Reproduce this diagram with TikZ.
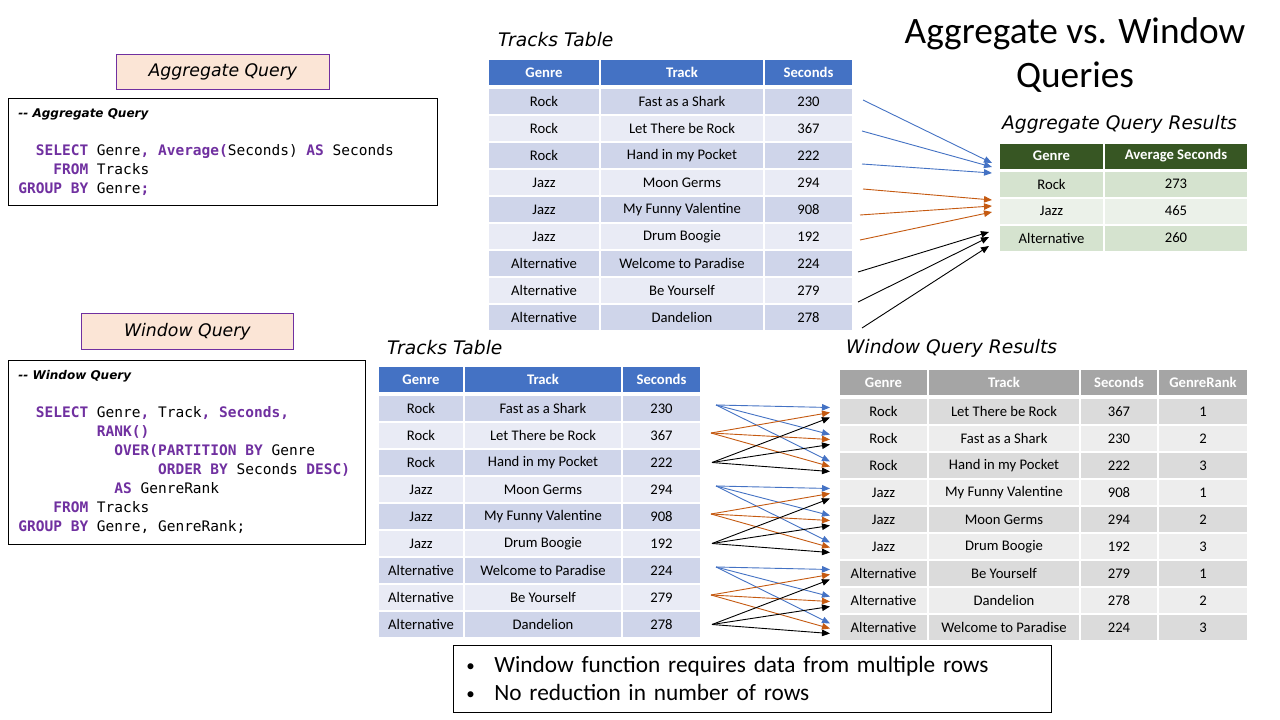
\documentclass[tikz,border=0pt]{standalone}
\usepackage{fontspec}
\setmainfont{Carlito}
\setmonofont{DejaVu Sans Mono}
\newfontfamily\headfont{DejaVu Sans}
\usetikzlibrary{arrows.meta}

\definecolor{hdblue}{HTML}{4472C4}
\definecolor{rowblueA}{HTML}{CFD5EA}
\definecolor{rowblueB}{HTML}{E9EBF5}
\definecolor{hdgreen}{HTML}{375623}
\definecolor{rowgreenA}{HTML}{D5E3CF}
\definecolor{rowgreenB}{HTML}{EBF1E9}
\definecolor{hdgray}{HTML}{A5A5A5}
\definecolor{rowgrayA}{HTML}{DBDBDB}
\definecolor{rowgrayB}{HTML}{EDEDED}
\definecolor{peach}{HTML}{FBE5D6}
\definecolor{sqlpurple}{HTML}{7030A0}
\definecolor{arrorange}{HTML}{C55A11}

\newcommand\kw[1]{\textcolor{sqlpurple}{\bfseries #1}}
\newcommand\codeind[1]{\hspace*{#1\fontcharwd\font`M}}
\newcommand\monospaces{\spaceskip=\fontcharwd\font`M\relax}
\newcommand\cmtfont{\headfont\bfseries\itshape\fontsize{12}{19}\selectfont\spaceskip=0pt\relax}
\newcommand\cellsize{\fontsize{14.67}{17}\selectfont}
\newcommand\notebullet{\makebox[28pt][l]{\raisebox{1.5pt}{\fontsize{17}{17}\selectfont\textbullet}}}

\def\trackrows{Rock/Fast as a Shark/230, Rock/Let There be Rock/367,
  Rock/Hand in my Pocket/222, Jazz/Moon Germs/294, Jazz/My Funny Valentine/908,
  Jazz/Drum Boogie/192, Alternative/Welcome to Paradise/224,
  Alternative/Be Yourself/279, Alternative/Dandelion/278}

\tikzset{
  cell/.style={minimum height=27pt, inner sep=0pt, draw=white, line width=2pt, font=\cellsize},
  hcell/.style={cell, text=white, font=\bfseries\cellsize},
  heading/.style={anchor=west, inner sep=0pt, font=\headfont\itshape\fontsize{18.67}{22}\selectfont},
  lbl/.style={draw=sqlpurple, fill=peach, line width=0.8pt, anchor=north west,
    font=\headfont\itshape\fontsize{17.3}{20}\selectfont},
  codebox/.style={draw, line width=0.8pt, anchor=north west, inner xsep=10pt, inner ysep=0pt,
    align=left, font=\ttfamily\fontsize{14.5}{19}\selectfont},
  arr/.style={-{Triangle[length=8pt,width=6.5pt]}, line width=0.9pt}
}

\begin{document}
\begin{tikzpicture}[x=1pt, y=-1pt]
    \path[use as bounding box, fill=white] (0,0) rectangle (1280,720);

    % title
    \node[font=\fontsize{37.3}{44}\selectfont, align=center] (title) at (1075,55)
        {Aggregate vs. Window\\Queries};

    % aggregate query
    \node[lbl, minimum width=213pt, minimum height=35pt] (agglbl) at (116,54) {Aggregate Query};
    \node[codebox, minimum width=429pt, minimum height=107pt, text width=409pt] (aggcode) at (8,98) {%
        {\cmtfont -{}- Aggregate Query}\\[19pt]
        \monospaces\codeind{2}\kw{SELECT} Genre\kw{,} \kw{Average(}Seconds) \kw{AS} Seconds\\
        \codeind{4}\kw{FROM} Tracks\\
        \kw{GROUP BY} Genre\kw{;}};

    % window query
    \node[lbl, minimum width=212pt, minimum height=36pt] (winlbl) at (81,313) {Window Query};
    \node[codebox, minimum width=357pt, minimum height=184pt, text width=337pt] (wincode) at (8,360) {%
        {\cmtfont -{}- Window Query}\\[19pt]
        \monospaces\codeind{2}\kw{SELECT} Genre\kw{,} Track\kw{, Seconds,}\\
        \codeind{9}\kw{RANK()}\\
        \codeind{11}\kw{OVER(PARTITION BY} Genre\\
        \codeind{16}\kw{ORDER BY} Seconds \kw{DESC)}\\
        \codeind{11}\kw{AS} GenreRank\\
        \codeind{4}\kw{FROM} Tracks\\
        \kw{GROUP BY} Genre, GenreRank;};

    % tracks table, top
    \node[heading] (toptitle) at (498,40) {Tracks Table};
    \node[hcell, fill=hdblue, minimum width=112pt] (th1) at (544,72.5) {Genre};
    \node[hcell, fill=hdblue, minimum width=164pt] (th2) at (682,72.5) {Track};
    \node[hcell, fill=hdblue, minimum width=89pt] (th3) at (808.5,72.5) {Seconds};
    \foreach \g/\t/\s [count=\i] in \trackrows {
        \ifodd\i \def\rc{rowblueA}\else \def\rc{rowblueB}\fi
        \pgfmathsetmacro\y{101.5+27*(\i-1)}
        \node[cell, fill=\rc, minimum width=112pt] (tg\i) at (544,\y) {\g};
        \node[cell, fill=\rc, minimum width=164pt] (tt\i) at (682,\y) {\t};
        \node[cell, fill=\rc, minimum width=89pt] (ts\i) at (808.5,\y) {\s};
    }

    % aggregate results
    \node[heading] (aggtitle) at (1002,124) {Aggregate Query Results};
    \node[hcell, fill=hdgreen, minimum width=105pt] (ah1) at (1051.5,156) {Genre};
    \node[hcell, fill=hdgreen, minimum width=144pt] (ah2) at (1176,156) {Average Seconds};
    \foreach \g/\a [count=\i] in {Rock/273, Jazz/465, Alternative/260} {
        \ifodd\i \def\rc{rowgreenA}\else \def\rc{rowgreenB}\fi
        \pgfmathsetmacro\y{184+27*(\i-1)}
        \node[cell, fill=\rc, minimum width=105pt] (ag\i) at (1051.5,\y) {\g};
        \node[cell, fill=\rc, minimum width=144pt] (aa\i) at (1176,\y) {\a};
    }

    % tracks table, bottom
    \node[heading] (lowtitle) at (387,348) {Tracks Table};
    \node[hcell, fill=hdblue, minimum width=86pt] (wh1) at (421,379.5) {Genre};
    \node[hcell, fill=hdblue, minimum width=158pt] (wh2) at (543,379.5) {Track};
    \node[hcell, fill=hdblue, minimum width=79pt] (wh3) at (661.5,379.5) {Seconds};
    \foreach \g/\t/\s [count=\i] in \trackrows {
        \ifodd\i \def\rc{rowblueA}\else \def\rc{rowblueB}\fi
        \pgfmathsetmacro\y{408.5+27*(\i-1)}
        \node[cell, fill=\rc, minimum width=86pt] (wg\i) at (421,\y) {\g};
        \node[cell, fill=\rc, minimum width=158pt] (wt\i) at (543,\y) {\t};
        \node[cell, fill=\rc, minimum width=79pt] (ws\i) at (661.5,\y) {\s};
    }

    % window results
    \node[heading] (restitle) at (846,348) {Window Query Results};
    \node[hcell, fill=hdgray, minimum width=89pt] (rh1) at (883.5,382.5) {Genre};
    \node[hcell, fill=hdgray, minimum width=152pt] (rh2) at (1004,382.5) {Track};
    \node[hcell, fill=hdgray, minimum width=78pt] (rh3) at (1119,382.5) {Seconds};
    \node[hcell, fill=hdgray, minimum width=90pt] (rh4) at (1203,382.5) {GenreRank};
    \foreach \g/\t/\s/\r [count=\i] in {Rock/Let There be Rock/367/1,
        Rock/Fast as a Shark/230/2, Rock/Hand in my Pocket/222/3,
        Jazz/My Funny Valentine/908/1, Jazz/Moon Germs/294/2, Jazz/Drum Boogie/192/3,
        Alternative/Be Yourself/279/1, Alternative/Dandelion/278/2,
        Alternative/Welcome to Paradise/224/3} {
        \ifodd\i \def\rc{rowgrayA}\else \def\rc{rowgrayB}\fi
        \pgfmathsetmacro\y{411.5+27*(\i-1)}
        \node[cell, fill=\rc, minimum width=89pt] (wr\i) at (883.5,\y) {\g};
        \node[cell, fill=\rc, minimum width=152pt] (wrt\i) at (1004,\y) {\t};
        \node[cell, fill=\rc, minimum width=78pt] (wrs\i) at (1119,\y) {\s};
        \node[cell, fill=\rc, minimum width=90pt] (wrr\i) at (1203,\y) {\r};
    }

    % aggregate arrows: every row into its genre
    \foreach \s/\d/\c/\sx/\sy/\dx/\dy in {1/1/hdblue/9/1.5/-6/21, 2/1/hdblue/8/-2.5/-6/17,
        3/1/hdblue/8/-8.5/-6/11, 4/2/arrorange/9/-6.5/-6/11, 5/2/arrorange/6/-5.5/-6/5,
        6/2/arrorange/6/-3.5/-6/-1, 7/3/black/4/-8.5/-9/6, 8/3/black/4/-11.5/-9/1,
        9/3/black/8/-10.5/-9/-8}
        \draw[arr, \c] ([xshift=\sx pt, yshift=\sy pt]ts\s.east) -- ([xshift=\dx pt, yshift=\dy pt]ag\d.west);

    % window arrows: each row to every row of its partition
    \foreach \k in {0,3,6} {
        \foreach \a/\c/\sx/\sy/\dy in {1/hdblue/14/3.5/4, 2/arrorange/9/2.5/-1, 3/black/10/0/-6} {
            \foreach \b in {1,2,3} {
                \pgfmathtruncatemacro\src{\k+\a}
                \pgfmathtruncatemacro\dst{\k+\b}
                \draw[arr, \c] ([xshift=\sx pt, yshift=\sy pt]ws\src.east) -- ([xshift=-8pt, yshift=\dy pt]wr\dst.west);
            }
        }
    }

    % notes
    \node[draw, line width=0.8pt, anchor=north west, minimum width=598pt, minimum height=67pt,
        text width=572pt, inner xsep=13pt, align=left, font=\fontsize{23.3}{28}\selectfont] (note) at (453,645)
        {\notebullet Window function requires data from multiple rows\\
         \notebullet No reduction in number of rows};
\end{tikzpicture}
\end{document}
